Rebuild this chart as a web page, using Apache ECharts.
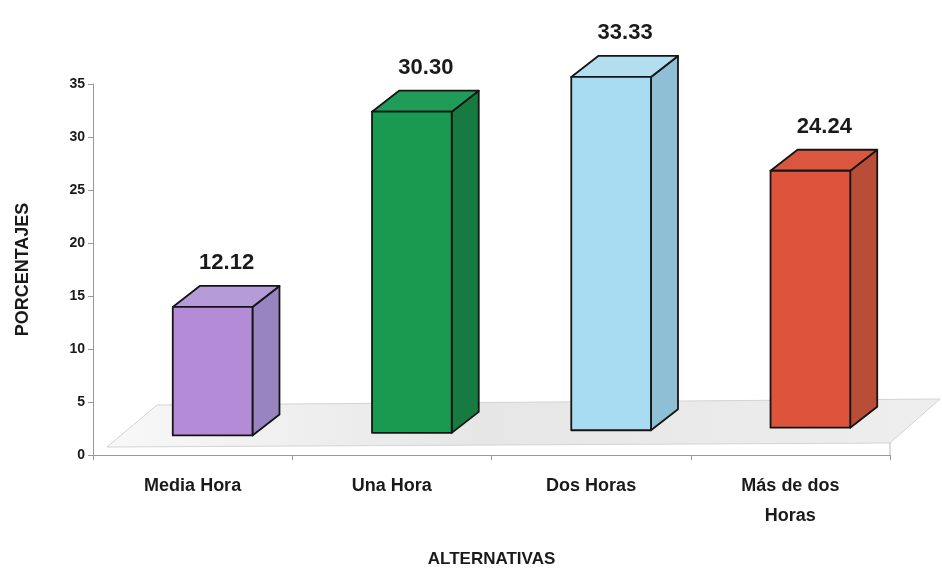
<!DOCTYPE html>
<html>
<head>
<meta charset="utf-8">
<script src="https://cdn.jsdelivr.net/npm/echarts@6/dist/echarts.min.js"></script>
<style>
  html, body { margin: 0; background: #fff; }
  #chart { width: 942px; height: 573px; }
</style>
</head>
<body>
<div id="chart"></div>
<script>
const categories = ['Media Hora', 'Una Hora', 'Dos Horas', 'Más de dos\nHoras']
const values = [12.12, 30.30, 33.33, 24.24]
const frontColors = ['#b48bd6', '#199a50', '#a8dcf2', '#de533b']
const sideColors = ['#9784c0', '#177b41', '#8fbfd5', '#b94d37']
const topColors = ['#b59cd9', '#1f9c57', '#b3def0', '#d9573f']

const FONT = 'Liberation Sans, Arial, sans-serif'

const chart = echarts.init(document.getElementById('chart'))

function renderFloor(params, api) {
  const cs = params.coordSys
  const y0 = cs.y + cs.height
  const fl = [cs.x + 14, y0 - 8]
  const fr = [cs.x + cs.width, y0 - 12]
  const br = [fr[0] + 50, fr[1] - 44]
  const bl = [fl[0] + 50, fl[1] - 42]
  return {
    type: 'group',
    children: [
      {
        type: 'polygon',
        shape: { points: [fl, fr, br, bl] },
        style: {
          fill: new echarts.graphic.LinearGradient(0, 0, 1, 0, [
            { offset: 0, color: '#f8f8f8' },
            { offset: 0.45, color: '#e6e6e6' },
            { offset: 1, color: '#eeeeee' }
          ]),
          stroke: '#d4d4d4',
          lineWidth: 1
        }
      },
      {
        type: 'line',
        shape: { x1: fr[0], y1: fr[1], x2: fr[0], y2: y0 },
        style: { stroke: '#bbb', lineWidth: 1 }
      }
    ]
  }
}

function renderBar(params, api) {
  const i = api.value(0)
  const v = api.value(1)
  const cs = params.coordSys
  const base = api.coord([i, 0])
  const top = api.coord([i, v])
  const bw = api.size([1, 0])[0] * 0.4
  const cx = base[0] + 20
  const lift = 18 + (cx - cs.x) * 0.013
  const x0 = cx - bw / 2
  const x1 = cx + bw / 2
  const yb = base[1] - lift
  const yt = top[1] - lift
  const dx = 27
  const dy = -21
  const line = { stroke: '#151515', lineWidth: 1.8, lineJoin: 'round' }
  return {
    type: 'group',
    children: [
      {
        type: 'polygon',
        shape: { points: [[x1, yt], [x1 + dx, yt + dy], [x1 + dx, yb + dy], [x1, yb]] },
        style: Object.assign({ fill: sideColors[i] }, line)
      },
      {
        type: 'polygon',
        shape: { points: [[x0, yt], [x0 + dx, yt + dy], [x1 + dx, yt + dy], [x1, yt]] },
        style: Object.assign({ fill: topColors[i] }, line)
      },
      {
        type: 'rect',
        shape: { x: x0, y: yt, width: bw, height: yb - yt },
        style: Object.assign({ fill: frontColors[i] }, line)
      },
      {
        type: 'text',
        x: cx + 14,
        y: yt - 44,
        style: {
          text: v.toFixed(2),
          font: 'bold 22px ' + FONT,
          fill: '#1a1a1a',
          align: 'center',
          verticalAlign: 'middle'
        }
      }
    ]
  }
}

chart.setOption({
  animation: false,
  backgroundColor: '#ffffff',
  grid: { left: 93, right: 52, top: 84, bottom: 117 },
  xAxis: {
    type: 'category',
    data: categories,
    name: 'ALTERNATIVAS',
    nameLocation: 'middle',
    nameGap: 96,
    nameTextStyle: { fontFamily: FONT, fontSize: 17, fontWeight: 'bold', color: '#1a1a1a' },
    axisLine: { lineStyle: { color: '#999', width: 1 } },
    axisTick: { show: true, length: 5, lineStyle: { color: '#999' } },
    axisLabel: {
      fontFamily: FONT, fontSize: 18, fontWeight: 'bold', color: '#1a1a1a',
      margin: 16, lineHeight: 30, interval: 0
    }
  },
  yAxis: {
    type: 'value',
    min: 0,
    max: 35,
    interval: 5,
    name: 'PORCENTAJES',
    nameLocation: 'middle',
    nameGap: 61,
    nameTextStyle: { fontFamily: FONT, fontSize: 18, fontWeight: 'bold', color: '#1a1a1a' },
    axisLine: { show: true, lineStyle: { color: '#999', width: 1 } },
    axisTick: { show: true, length: 5, lineStyle: { color: '#999' } },
    splitLine: { show: false },
    axisLabel: { fontFamily: FONT, fontSize: 14, fontWeight: 'bold', color: '#1a1a1a', margin: 8 }
  },
  series: [
    {
      type: 'custom',
      renderItem: renderFloor,
      data: [[0, 0]],
      silent: true,
      z: 1
    },
    {
      type: 'custom',
      renderItem: renderBar,
      data: values.map((v, i) => [i, v]),
      z: 2
    }
  ]
})
</script>
</body>
</html>
